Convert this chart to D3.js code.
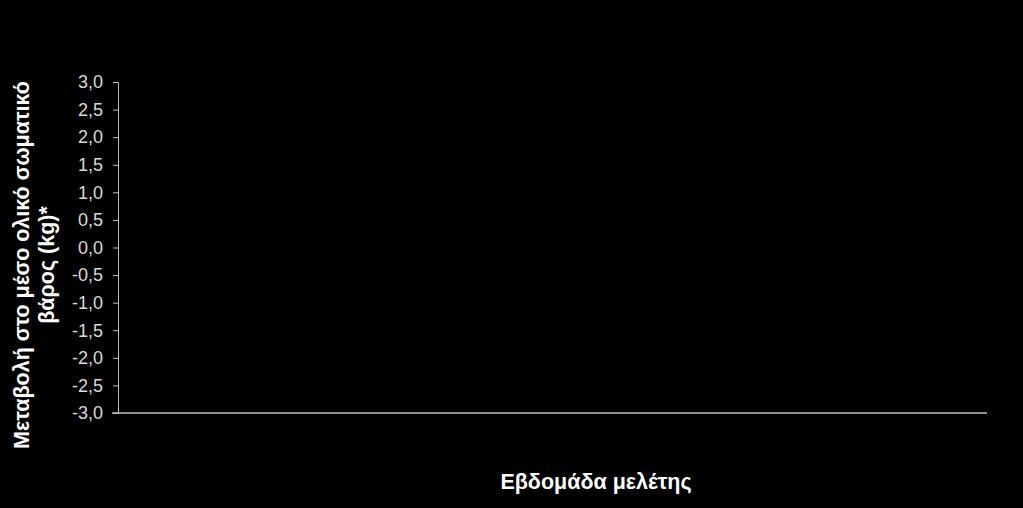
<!DOCTYPE html>
<html>
<head>
    <meta charset="utf-8">
    <style>
        body { margin: 0; background: #000; }
        svg { display: block; font-family: "Liberation Sans", Arial, sans-serif; }
        .tick-label { fill: #d9d9d9; font-size: 18px; }
        .axis-title { fill: #fff; font-weight: bold; }
    </style>
</head>
<body>
<svg width="1023" height="508"></svg>
<script src="https://d3js.org/d3.v7.min.js"></script>
<script>
    // chart is empty in the source: only axes, no weeks / series drawn
    let weeks = []
    let yTicks = [-3.0, -2.5, -2.0, -1.5, -1.0, -0.5, 0.0, 0.5, 1.0, 1.5, 2.0, 2.5, 3.0]
    let yTitle = ["Μεταβολή στο μέσο ολικό σωματικό", "βάρος (kg)*"]
    let xTitle = "Εβδομάδα μελέτης"

    let svg = d3.select("svg")
    let margin = { left: 118, right: 36, top: 82, bottom: 95 }
    let width = 1023, height = 508

    let y = d3.scaleLinear()
        .domain([-3, 3])
        .range([height - margin.bottom, margin.top])

    let x = d3.scaleBand()
        .domain(weeks)
        .range([margin.left, width - margin.right])

    let yAxis = svg.append("g")
        .attr("transform", "translate(" + margin.left + ",0)")
        .call(d3.axisLeft(y).tickValues(yTicks).tickSize(5).tickPadding(10)
            .tickFormat(d => d3.format(".1f")(d).replace(".", ",").replace("−", "-")))
    yAxis.select(".domain").attr("stroke", "#bfbfbf")
    yAxis.selectAll(".tick line").attr("stroke", "#bfbfbf")
    yAxis.selectAll(".tick text").attr("class", "tick-label").attr("fill", null)
        .style("font-family", "'Liberation Sans', Arial, sans-serif")

    // x axis line, no ticks
    svg.append("line")
        .attr("x1", margin.left - 6)
        .attr("x2", width - margin.right)
        .attr("y1", y(-3))
        .attr("y2", y(-3))
        .attr("stroke", "#bfbfbf")
        .attr("stroke-width", 1.5)

    svg.append("text")
        .attr("class", "axis-title")
        .attr("x", 596)
        .attr("y", 489)
        .attr("text-anchor", "middle")
        .style("font-size", "21.5px")
        .text(xTitle)

    let yt = svg.append("text")
        .attr("class", "axis-title")
        .attr("transform", "translate(29,265) rotate(-90)")
        .attr("text-anchor", "middle")
        .style("font-size", "21.5px")
    yt.selectAll("tspan")
        .data(yTitle)
        .join("tspan")
        .attr("x", 0)
        .attr("dy", (d, i) => i === 0 ? 0 : 25)
        .text(d => d)
</script>
</body>
</html>
